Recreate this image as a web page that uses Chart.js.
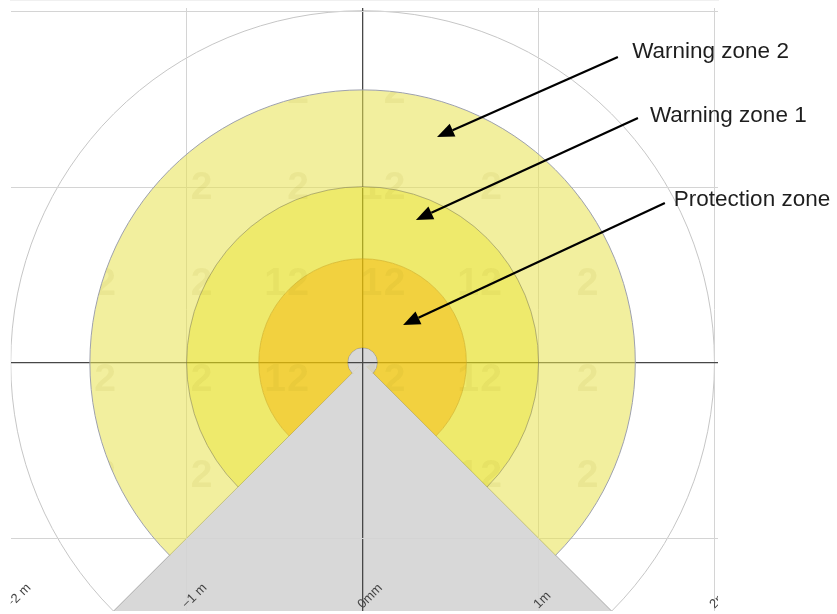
<!DOCTYPE html>
<html>
<head>
<meta charset="utf-8">
<script src="https://cdn.jsdelivr.net/npm/chart.js@4.4.0/dist/chart.umd.min.js"></script>
<style>
  html, body { margin: 0; padding: 0; background: #fff; }
  #wrap { width: 837px; height: 614px; position: relative; }
</style>
</head>
<body>
<div id="wrap"><canvas id="chart"></canvas></div>
<script>
// field geometry, metres from the scanner centre
const zoneNames = ['Warning zone 2', 'Warning zone 1', 'Protection zone'];
const zoneRadii = [1.55, 1.0, 0.59];
const rangeRadius = [2.0];
const sensorRadius = [0.085];
// blind sector behind the scanner (polygon)
const blindX = [-0.06, -1.6, 1.6, 0.06];
const blindY = [-0.06, -1.6, -1.6, -0.06];
// axis
const xTicks = [-2, -1, 0, 1, 2];
const xTickLabels = ['\u22122 m', '\u22121 m', '0mm', '1m', '2m'];

// styles
const zoneFill = ['rgba(231,226,79,0.55)', 'rgba(228,221,18,0.62)', 'rgba(238,194,2,0.76)'];
const zoneEdge = ['#9ea1ad', 'rgba(125,122,80,0.55)', 'rgba(210,180,40,0.7)'];
// callout placement (data units), one per zone name
const callouts = [
  {tip: [0.423, 1.285], tail: [1.451, 1.741], label: [1.532, 1.773]},
  {tip: [0.303, 0.813], tail: [1.565, 1.394], label: [1.633, 1.405]},
  {tip: [0.230, 0.214], tail: [1.718, 0.909], label: [1.769, 0.929]}
];

const pxPerM = chart => {
  const s = chart.scales.x;
  return s.getPixelForValue(1) - s.getPixelForValue(0);
};

const overlay = {
  id: 'overlay',
  afterDraw(chart) {
    const {ctx, chartArea: a, scales: {x, y}} = chart;
    const cx = x.getPixelForValue(0), cy = y.getPixelForValue(0), k = pxPerM(chart);
    const a0 = Math.PI * 0.75, a1 = Math.PI * 2.25;
    const sector = r => { ctx.moveTo(cx, cy); ctx.arc(cx, cy, r, a0, a1); ctx.closePath(); };

    ctx.save();
    ctx.beginPath();
    ctx.rect(a.left, a.top, a.right - a.left, a.bottom - a.top);
    ctx.clip();

    // zones as rings, drawn over the grid
    zoneRadii.forEach((r, i) => {
      const inner = i < zoneRadii.length - 1 ? zoneRadii[i + 1] : sensorRadius[0];
      ctx.beginPath();
      sector(r * k);
      sector(inner * k);
      ctx.fillStyle = zoneFill[i];
      ctx.fill('evenodd');
      ctx.beginPath();
      ctx.arc(cx, cy, r * k, a0, a1);
      ctx.strokeStyle = zoneEdge[i];
      ctx.lineWidth = 1;
      ctx.stroke();
    });

    // faint field-number texture
    ctx.font = 'bold 39px "Liberation Sans", Arial, sans-serif';
    ctx.textAlign = 'center';
    ctx.textBaseline = 'middle';
    ctx.fillStyle = 'rgba(150,140,20,0.09)';
    [['2', 0, 0], ['1', -23, 1]].forEach(([ch, dx, zi]) => {
      ctx.save();
      ctx.beginPath();
      sector(zoneRadii[zi] * k);
      ctx.clip();
      for (let i = -3; i <= 2; i++) {
        for (let j = -3; j <= 2; j++) {
          ctx.fillText(ch, cx + 32 + 96.5 * i + dx, cy + 18 + 96 * j);
        }
      }
      ctx.restore();
    });

    // rotated axis labels along the bottom
    ctx.font = '13px "Liberation Sans", Arial, sans-serif';
    ctx.fillStyle = '#444';
    ctx.textAlign = 'left';
    ctx.textBaseline = 'alphabetic';
    xTicks.forEach((v, i) => {
      ctx.save();
      ctx.translate(x.getPixelForValue(v), a.bottom - 2);
      ctx.rotate(-Math.PI / 4);
      ctx.fillText(xTickLabels[i], 0, 0);
      ctx.restore();
    });
    ctx.restore();

    // callouts
    ctx.save();
    callouts.forEach((c, i) => {
      const tx = x.getPixelForValue(c.tip[0]), ty = y.getPixelForValue(c.tip[1]);
      const sx = x.getPixelForValue(c.tail[0]), sy = y.getPixelForValue(c.tail[1]);
      const ang = Math.atan2(ty - sy, tx - sx);
      const hl = 17, hw = 7;
      const bx = tx - hl * Math.cos(ang), by = ty - hl * Math.sin(ang);
      ctx.strokeStyle = '#000';
      ctx.fillStyle = '#000';
      ctx.lineWidth = 2.2;
      ctx.beginPath();
      ctx.moveTo(sx, sy);
      ctx.lineTo(bx, by);
      ctx.stroke();
      ctx.beginPath();
      ctx.moveTo(tx, ty);
      ctx.lineTo(bx + hw * Math.sin(ang), by - hw * Math.cos(ang));
      ctx.lineTo(bx - hw * Math.sin(ang), by + hw * Math.cos(ang));
      ctx.closePath();
      ctx.fill();
      ctx.font = '22.5px "Liberation Sans", Arial, sans-serif';
      ctx.fillStyle = '#1e1e1e';
      ctx.textAlign = 'left';
      ctx.textBaseline = 'middle';
      ctx.fillText(zoneNames[i], x.getPixelForValue(c.label[0]), y.getPixelForValue(c.label[1]));
    });
    ctx.restore();
  }
};

const gridColor = c => {
  const v = c.tick.value;
  if (v === 0) return '#474747';
  if (c.scale.axis === 'x' && v === -2) return 'rgba(0,0,0,0)';
  return '#d4d4d4';
};
const gridWidth = c => (c.tick.value === 0 ? 1.3 : 1);

new Chart(document.getElementById('chart'), {
  type: 'scatter',
  data: {
    datasets: [
      {
        type: 'scatter', label: 'range', data: [{x: 0, y: 0}], order: 3, clip: 0,
        pointRadius: c => rangeRadius[0] * pxPerM(c.chart),
        pointBackgroundColor: 'rgba(0,0,0,0)', pointBorderColor: '#c6c6c6', pointBorderWidth: 1
      },
      {
        type: 'scatter', label: 'sensor', data: [{x: 0, y: 0}], order: 2, clip: 0,
        pointRadius: c => sensorRadius[0] * pxPerM(c.chart),
        pointBackgroundColor: '#d8d8d8', pointBorderColor: '#a4a4a4', pointBorderWidth: 1
      },
      {
        type: 'line', label: 'blind', order: 1, clip: 0,
        data: blindX.map((v, i) => ({x: v, y: blindY[i]})),
        showLine: true, fill: 'shape', tension: 0,
        backgroundColor: '#d8d8d8', borderColor: '#ababab', borderWidth: 1, pointRadius: 0
      }
    ]
  },
  options: {
    responsive: true,
    maintainAspectRatio: false,
    animation: false,
    events: [],
    layout: {padding: {left: 10.7, right: 119, top: 8, bottom: 3}},
    plugins: {legend: {display: false}, tooltip: {enabled: false}},
    scales: {
      x: {
        type: 'linear', min: -2, max: 2.02,
        ticks: {display: false, stepSize: 1, includeBounds: false},
        grid: {color: gridColor, lineWidth: gridWidth, drawTicks: false, z: 1},
        border: {display: true, color: '#e2e2e2'}
      },
      y: {
        type: 'linear', min: -1.415, max: 2.02,
        ticks: {display: false, stepSize: 1, includeBounds: false},
        grid: {color: gridColor, lineWidth: gridWidth, drawTicks: false, z: 1},
        border: {display: false}
      }
    }
  },
  plugins: [overlay]
});
</script>
</body>
</html>
